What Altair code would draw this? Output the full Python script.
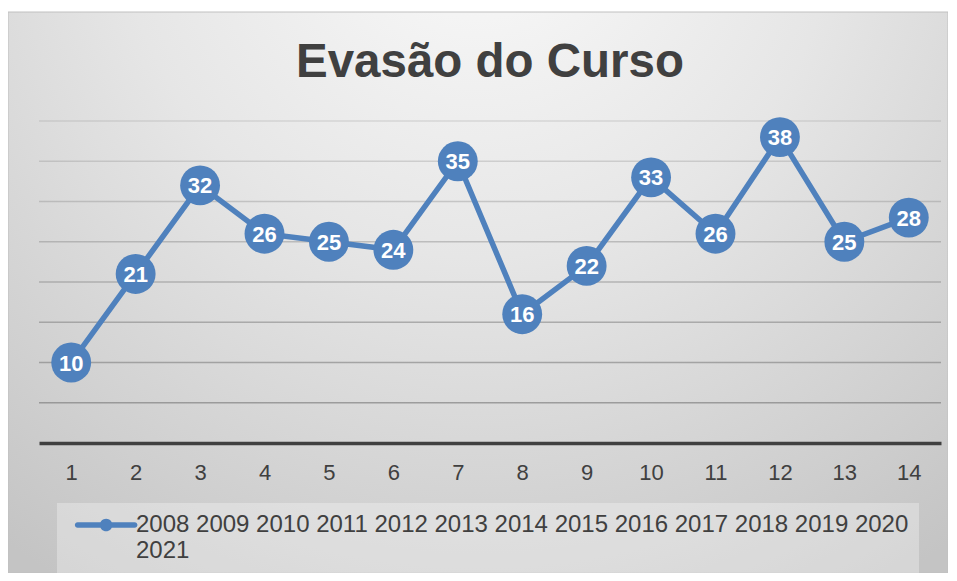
import altair as alt
import pandas as pd

# ---- data ----
CATEGORIES = ["1", "2", "3", "4", "5", "6", "7", "8", "9", "10", "11", "12", "13", "14"]
VALUES = [10, 21, 32, 26, 25, 24, 35, 16, 22, 33, 26, 38, 25, 28]
YEARS = ["2008", "2009", "2010", "2011", "2012", "2013", "2014",
         "2015", "2016", "2017", "2018", "2019", "2020", "2021"]
GRID_TICKS = [5, 10, 15, 20, 25, 30, 35, 40]
TITLE = "Evasão do Curso"

BLUE = "#4f81bd"
TEXT_COLOR = "#404040"
FONT = "Liberation Sans"

W, H = 902, 322
PAD = {"left": 31, "top": 113, "right": 7, "bottom": 130}

series_name = " ".join(YEARS)
df = pd.DataFrame({"cat": CATEGORIES, "value": VALUES, "series": [series_name] * len(VALUES)})
grid_df = pd.DataFrame({"v": GRID_TICKS})

y_scale = alt.Scale(domain=[0, 40], nice=False, zero=True)

x_enc = alt.X(
    "cat:O",
    sort=CATEGORIES,
    scale=alt.Scale(type="point", padding=0.5),
    axis=alt.Axis(
        title=None, labelAngle=0, ticks=False, grid=False,
        domainColor=TEXT_COLOR, domainWidth=3.5,
        labelFontSize=22, labelColor=TEXT_COLOR, labelFont=FONT,
        labelPadding=19, zindex=1,
    ),
)
y_enc = alt.Y("value:Q", scale=y_scale, axis=None)

gradient = alt.RadialGradient(
    gradient="radial",
    stops=[
        alt.GradientStop(color="#fbfbfb", offset=0),
        alt.GradientStop(color="#e6e6e6", offset=0.45),
        alt.GradientStop(color="#c4c4c4", offset=1),
    ],
    x1=0.5, y1=0.08, r1=0,
    x2=0.5, y2=0.08, r2=0.85,
)

background = alt.Chart(pd.DataFrame({"a": [0]})).mark_rect(
    fill=gradient, stroke="#c0c0c0", strokeWidth=1
).encode(
    x=alt.value(-PAD["left"]), x2=alt.value(W + PAD["right"]),
    y=alt.value(-PAD["top"] + 4), y2=alt.value(H + PAD["bottom"]),
)

title = alt.Chart(pd.DataFrame({"t": [TITLE]})).mark_text(
    font=FONT, fontSize=47.5, fontWeight="bold", color=TEXT_COLOR,
    align="center", baseline="alphabetic",
).encode(x=alt.value(451), y=alt.value(-44), text="t:N")

grid = alt.Chart(grid_df).mark_rule(stroke="#7f7f7f", strokeWidth=1.5).encode(
    y=alt.Y("v:Q", scale=y_scale, axis=None),
    strokeOpacity=alt.StrokeOpacity("v:Q", scale=alt.Scale(domain=[0, 40], range=[0.75, 0.2]), legend=None),
)

base = alt.Chart(df).encode(x=x_enc, y=y_enc)

line = base.mark_line(color=BLUE, strokeWidth=5.5)

# legend glyph: a line with a dot, drawn to the right of the symbol centre
SYMBOL = ("M-0.12,-0.245 L4.88,-0.245 A0.245,0.245 0 0 1 4.88,0.245 L-0.12,0.245 "
          "A0.245,0.245 0 0 1 -0.12,-0.245 Z "
          "M1.83,0 A0.55,0.55 0 1 1 2.93,0 A0.55,0.55 0 1 1 1.83,0 Z")

points = base.mark_point(filled=True, size=1590, opacity=1).encode(
    color=alt.Color(
        "series:N",
        scale=alt.Scale(range=[BLUE]),
        legend=alt.Legend(
            title=None, orient="none", legendX=18, legendY=382,
            fillColor="rgba(255,255,255,0.3)", padding=10,
            symbolType=SYMBOL, symbolSize=520, symbolStrokeWidth=0,
            symbolFillColor=BLUE, symbolOpacity=1,
            labelFontSize=24, labelColor=TEXT_COLOR, labelFont=FONT,
            labelLimit=1200, labelOffset=45,
            labelExpr="[slice(datum.label, 0, 64), slice(datum.label, 65)]",
        ),
    )
)

labels = base.mark_text(
    font=FONT, fontSize=22, fontWeight="bold", color="white",
    align="center", baseline="middle", dy=1,
).encode(text="value:Q")

chart = alt.layer(background, grid, title, line, points, labels).properties(
    width=W, height=H,
    autosize=alt.AutoSizeParams(type="none"),
    padding=PAD,
).configure(background="white").configure_view(stroke=None)

chart.save("out.html", embed_options={"renderer": "svg", "actions": False})
